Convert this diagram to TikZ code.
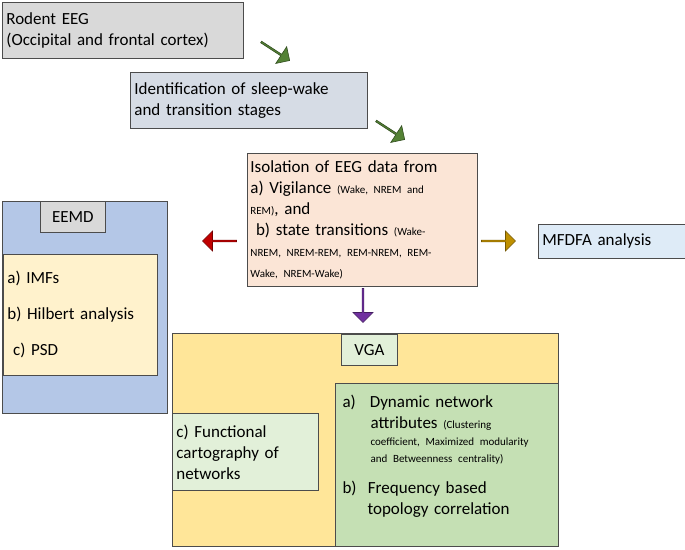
\documentclass[tikz,border=0pt]{standalone}
\usepackage{fontspec}
\setmainfont{Carlito}
\usetikzlibrary{shapes.arrows}
\definecolor{gr}{HTML}{D9D9D9}
\definecolor{bg}{HTML}{D6DCE5}
\definecolor{pe}{HTML}{FBE5D6}
\definecolor{lb}{HTML}{DEEBF7}
\definecolor{bl}{HTML}{B4C7E7}
\definecolor{cr}{HTML}{FFF2CC}
\definecolor{ye}{HTML}{FFE699}
\definecolor{lg}{HTML}{E2F0D9}
\definecolor{gn}{HTML}{C5E0B4}
\definecolor{ag}{HTML}{548235}
\definecolor{ar}{HTML}{C00000}
\definecolor{ao}{HTML}{BF9000}
\definecolor{ap}{HTML}{7030A0}
\newcommand{\smtx}{\fontsize{11}{18}\selectfont}
\begin{document}
\begin{tikzpicture}[x=1pt,y=-1pt,
 box/.style={draw=black!70,line width=0.8pt,anchor=north west,inner sep=4pt,font=\fontsize{17}{21}\selectfont,align=left},
 blk/.style={single arrow,draw=#1!60!black,fill=#1,line width=0.6pt,minimum height=34pt,minimum width=20pt,single arrow head extend=3pt,inner sep=0pt,single arrow tip angle=90}]
\useasboundingbox (0,0) rectangle (685,549);
\node[box,fill=gr,minimum width=241pt,minimum height=56pt,text width=233pt] (rod) at (2,2) {Rodent EEG\\(Occipital and frontal cortex)};
\node[box,fill=bg,minimum width=237pt,minimum height=56pt,text width=229pt] (id) at (130,72) {Identification of sleep-wake\\and transition stages};
\node[box,fill=pe,minimum width=230pt,minimum height=133pt,text width=224pt,inner sep=3pt] (iso) at (247,153) {Isolation of EEG data from\\a) Vigilance {\smtx(Wake, NREM and}\\{\smtx REM)}, and\\\ b) state transitions {\smtx(Wake-}\\{\smtx NREM, NREM-REM, REM-NREM, REM-}\\{\smtx Wake, NREM-Wake)}};
\node[box,fill=lb,minimum width=147pt,minimum height=34pt,text width=139pt] (mf) at (538,224) {MFDFA analysis};
\node[box,fill=bl,minimum width=165pt,minimum height=212pt] (ee) at (2,201) {};
\node[box,fill=gr,minimum width=65pt,minimum height=31pt,align=center] (eel) at (40,201) {EEMD};
\node[box,fill=cr,minimum width=152pt,minimum height=121pt,text width=146pt,font=\fontsize{17}{36}\selectfont] (eei) at (3,254) {a) IMFs\\b) Hilbert analysis\\\ c) PSD};
\node[box,fill=ye,minimum width=386pt,minimum height=213pt] (vga) at (172,333) {};
\node[box,fill=lg,minimum width=56pt,minimum height=31pt,align=center] (vgl) at (341,334) {VGA};
\node[box,fill=gn,minimum width=223pt,minimum height=163pt] (dyn) at (335,383) {};
\node[anchor=north west,align=left,font=\fontsize{17}{21}\selectfont,text width=215pt] (dyt) at (339,392) {a)\hspace{14pt}Dynamic network\\\hspace{28pt}attributes {\fontsize{11}{15}\selectfont(Clustering}\\[-4pt]\hspace*{28pt}{\fontsize{11}{15}\selectfont coefficient, Maximized modularity}\\[-4pt]\hspace*{28pt}{\fontsize{11}{15}\selectfont and Betweenness centrality)}\\[10pt]b)\ \ Frequency based\\\hspace*{25pt}topology correlation};
\node[box,fill=lg,minimum width=146pt,minimum height=77pt,text width=138pt] (fc) at (172,413) {c) Functional\\cartography of\\networks};
\node[blk=ag,rotate=-33] (g1) at (275,51) {};
\node[blk=ag,rotate=-33] (g2) at (390,130) {};
\node[blk=ar,rotate=180] (r1) at (220,241) {};
\node[blk=ao] (o1) at (498,241) {};
\node[blk=ap,rotate=-90] (p1) at (363,305) {};
\end{tikzpicture}
\end{document}
